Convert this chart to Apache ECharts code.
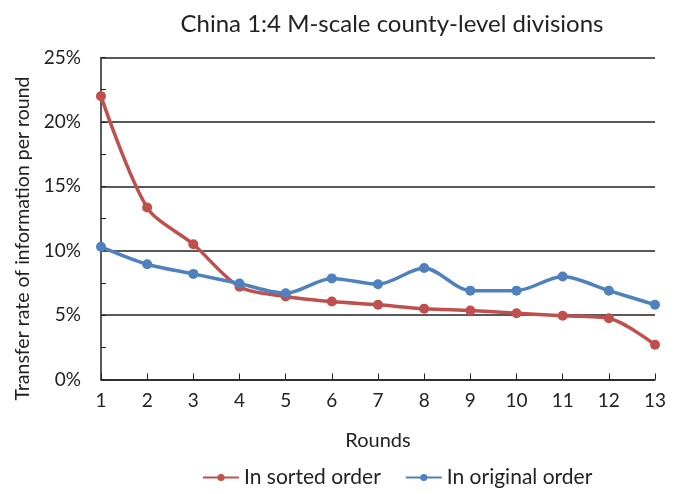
<!DOCTYPE html>
<html>
<head>
<meta charset="utf-8">
<script src="https://cdn.jsdelivr.net/npm/echarts@6/dist/echarts.min.js"></script>
<style>
html,body{margin:0;padding:0;background:#fff;}
#chart{width:681px;height:494px;}
</style>
</head>
<body>
<div id="chart"></div>
<script>
const titleText = "China 1:4 M-scale county-level divisions";
const rounds = ["1","2","3","4","5","6","7","8","9","10","11","12","13"];
const sortedOrder = [22.0, 13.35, 10.5, 7.2, 6.45, 6.05, 5.8, 5.5, 5.35, 5.15, 4.95, 4.75, 2.7];
const originalOrder = [10.3, 8.95, 8.2, 7.45, 6.7, 7.85, 7.4, 8.65, 6.9, 6.9, 8.0, 6.9, 5.8];
const yTicks = [0, 5, 10, 15, 20, 25];
const seriesNames = ["In sorted order", "In original order"];

const FONT = "Lato, 'Open Sans', sans-serif";
const chart = echarts.init(document.getElementById('chart'), null, {renderer: 'canvas'});
chart.setOption({
  animation: false,
  backgroundColor: '#ffffff',
  title: {
    text: titleText,
    left: 387, top: 7, textAlign: 'center',
    textStyle: {fontFamily: FONT, fontSize: 24, fontWeight: 'normal', color: '#222'}
  },
  legend: {
    data: seriesNames,
    bottom: 1, left: 197,
    itemWidth: 36, itemHeight: 9, itemGap: 24,
    textStyle: {fontFamily: FONT, fontSize: 21, color: '#222'}
  },
  grid: {left: 101, right: 26, top: 57.5, bottom: 114.5},
  xAxis: {
    type: 'category',
    data: rounds,
    boundaryGap: false,
    name: 'Rounds',
    nameLocation: 'middle',
    nameGap: 51,
    nameTextStyle: {fontFamily: FONT, fontSize: 20, color: '#222'},
    axisLine: {lineStyle: {color: '#222', width: 1.5}},
    axisTick: {show: true, inside: true, length: 6, alignWithLabel: true, lineStyle: {color: '#222'}},
    axisLabel: {fontFamily: FONT, fontSize: 19, color: '#222', margin: 12},
    splitLine: {show: false}
  },
  yAxis: {
    type: 'value',
    min: yTicks[0], max: yTicks[yTicks.length - 1], interval: 5,
    name: 'Transfer rate of information per round',
    nameLocation: 'middle',
    nameGap: 66,
    nameTextStyle: {fontFamily: FONT, fontSize: 19.5, color: '#222', padding: [0, 40, 0, 0]},
    axisLine: {show: true, lineStyle: {color: '#222', width: 1.5}},
    axisTick: {show: true, inside: true, length: 5, lineStyle: {color: '#222'}},
    minorTick: {show: true, splitNumber: 2, length: 5, lineStyle: {color: '#222', width: 1}},
    axisLabel: {fontFamily: FONT, fontSize: 19, color: '#222', margin: 20, formatter: v => v + '%'},
    splitLine: {show: true, lineStyle: {color: '#222', width: 1.5}}
  },
  series: [
    {
      name: seriesNames[0], type: 'line', data: sortedOrder, smooth: 0.3,
      symbol: 'circle', symbolSize: 10,
      itemStyle: {color: '#C0504D'},
      lineStyle: {color: '#C0504D', width: 3.5}
    },
    {
      name: seriesNames[1], type: 'line', data: originalOrder, smooth: 0.3,
      symbol: 'circle', symbolSize: 10,
      itemStyle: {color: '#4F81BD'},
      lineStyle: {color: '#4F81BD', width: 3.5}
    }
  ]
});
</script>
</body>
</html>
